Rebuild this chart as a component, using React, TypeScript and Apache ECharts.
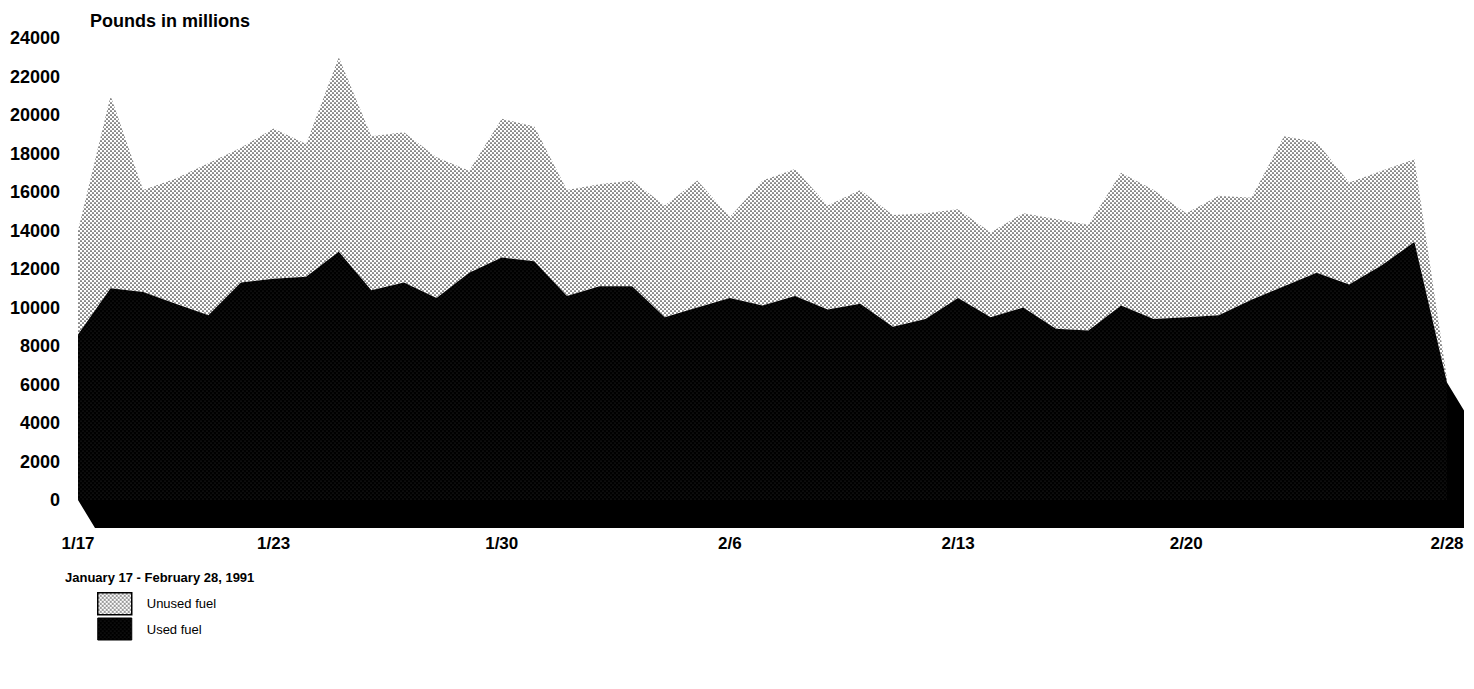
import React, { useEffect, useRef } from "react";
import * as echarts from "echarts";

// Days from January 17 to February 28, 1991
const days: string[] = [
  "1/17", "1/18", "1/19", "1/20", "1/21", "1/22", "1/23", "1/24", "1/25", "1/26",
  "1/27", "1/28", "1/29", "1/30", "1/31", "2/1", "2/2", "2/3", "2/4", "2/5",
  "2/6", "2/7", "2/8", "2/9", "2/10", "2/11", "2/12", "2/13", "2/14", "2/15",
  "2/16", "2/17", "2/18", "2/19", "2/20", "2/21", "2/22", "2/23", "2/24", "2/25",
  "2/26", "2/27", "2/28",
];

// Tick labels shown on the x axis
const xTickLabels: string[] = ["1/17", "1/23", "1/30", "2/6", "2/13", "2/20", "2/28"];

// Used fuel (pounds in millions), bottom of the stack
const usedFuel: number[] = [
  8600, 11000, 10800, 10200, 9600, 11300, 11500, 11600, 12900, 10900,
  11300, 10500, 11800, 12600, 12400, 10600, 11100, 11100, 9500, 10000,
  10500, 10100, 10600, 9900, 10200, 9000, 9400, 10500, 9500, 10000,
  8900, 8800, 10100, 9400, 9500, 9600, 10400, 11100, 11800, 11200,
  12200, 13400, 6100,
];

// Unused fuel (pounds in millions), stacked on top of used fuel
const unusedFuel: number[] = [
  5400, 10000, 5300, 6500, 7900, 7000, 7800, 6900, 10100, 8000,
  7800, 7300, 5300, 7200, 7000, 5500, 5300, 5500, 5800, 6600,
  4200, 6500, 6600, 5400, 5900, 5800, 5500, 4600, 4400, 4900,
  5700, 5500, 6900, 6700, 5400, 6200, 5300, 7800, 6800, 5300,
  4900, 4300, 200,
];

const titleText = "Pounds in millions";
const subtitleText = "January 17 - February 28, 1991";
const seriesNames = ["Unused fuel", "Used fuel"];

const FONT = "'Liberation Sans', Arial, Helvetica, sans-serif";

function makePattern(bg: string, dot: string, size: number, r: number) {
  const c = document.createElement("canvas");
  c.width = size;
  c.height = size;
  const ctx = c.getContext("2d")!;
  ctx.fillStyle = bg;
  ctx.fillRect(0, 0, size, size);
  ctx.fillStyle = dot;
  const pts = [
    [size / 4, size / 4],
    [(3 * size) / 4, (3 * size) / 4],
  ];
  for (const [x, y] of pts) {
    ctx.beginPath();
    ctx.arc(x, y, r, 0, Math.PI * 2);
    ctx.fill();
  }
  return { image: c, repeat: "repeat" } as any;
}

export default function App() {
  const ref = useRef<HTMLDivElement>(null);

  useEffect(() => {
    if (!ref.current) return;
    const chart = echarts.init(ref.current, null, { renderer: "svg" });
    const grayPat = makePattern("#ffffff", "#2a2a2a", 4, 0.85);
    const darkPat = makePattern("#000000", "#333333", 4, 0.6);

    const option: any = {
      animation: false,
      backgroundColor: "#ffffff",
      title: [
        {
          text: titleText,
          left: 90,
          top: 12,
          padding: 0,
          textStyle: { fontFamily: FONT, fontWeight: "bold", fontSize: 18, color: "#000" },
        },
        {
          text: subtitleText,
          left: 65,
          top: 571,
          padding: 0,
          textStyle: { fontFamily: FONT, fontWeight: "bold", fontSize: 13, color: "#000" },
        },
      ],
      legend: {
        orient: "vertical",
        left: 97,
        top: 592,
        itemWidth: 34,
        itemHeight: 22,
        itemGap: 2,
        selectedMode: false,
        padding: 0,
        data: [
          {
            name: seriesNames[0],
            icon: "rect",
            itemStyle: { color: grayPat, borderColor: "#000", borderWidth: 1.5 },
          },
          {
            name: seriesNames[1],
            icon: "rect",
            itemStyle: { color: darkPat, borderColor: "#000", borderWidth: 1 },
          },
        ],
        textStyle: {
          fontFamily: FONT,
          fontSize: 13,
          color: "#000",
          padding: [0, 0, 0, 10],
        },
      },
      grid: { left: 78, right: 27, top: 38, bottom: 189 },
      xAxis: {
        type: "category",
        data: days,
        boundaryGap: false,
        axisLine: { show: false },
        axisTick: { show: false },
        splitLine: { show: false },
        axisLabel: {
          interval: (_i: number, v: string) => xTickLabels.includes(v),
          margin: 35,
          fontFamily: FONT,
          fontWeight: "bold",
          fontSize: 17,
          color: "#000",
        },
      },
      yAxis: {
        type: "value",
        min: 0,
        max: 24000,
        interval: 2000,
        axisLine: { show: false },
        axisTick: { show: false },
        splitLine: { show: false },
        axisLabel: {
          margin: 18,
          formatter: (v: number) => String(v),
          fontFamily: FONT,
          fontWeight: "bold",
          fontSize: 18,
          color: "#000",
        },
      },
      series: [
        {
          name: seriesNames[1],
          type: "line",
          stack: "fuel",
          data: usedFuel,
          symbol: "none",
          showSymbol: false,
          lineStyle: { width: 0, opacity: 0 },
          areaStyle: { color: darkPat, opacity: 1 },
          z: 3,
        },
        {
          name: seriesNames[0],
          type: "line",
          stack: "fuel",
          data: unusedFuel,
          symbol: "none",
          showSymbol: false,
          lineStyle: { width: 0, opacity: 0 },
          areaStyle: { color: grayPat, opacity: 1 },
          z: 2,
        },
      ],
    };
    chart.setOption(option);

    // 3D-style floor under the used-fuel area
    const last = days.length - 1;
    const dx = 17;
    const dy = 28;
    const p0 = chart.convertToPixel({ gridIndex: 0 }, [0, 0]) as number[];
    const pN = chart.convertToPixel({ gridIndex: 0 }, [last, 0]) as number[];
    const pT = chart.convertToPixel({ gridIndex: 0 }, [last, usedFuel[last]]) as number[];
    chart.setOption({
      graphic: [
        {
          type: "polygon",
          z: 1,
          silent: true,
          shape: {
            points: [
              [p0[0], p0[1]],
              [p0[0] + dx, p0[1] + dy],
              [pN[0] + dx, pN[1] + dy],
              [pT[0] + dx, pT[1] + dy],
              [pT[0], pT[1]],
              [pN[0], pN[1]],
            ],
          },
          style: { fill: "#000" },
        },
      ],
    });

    return () => chart.dispose();
  }, []);

  return (
    <div
      ref={ref}
      style={{ position: "fixed", left: 0, top: 0, width: 1474, height: 689 }}
    />
  );
}
